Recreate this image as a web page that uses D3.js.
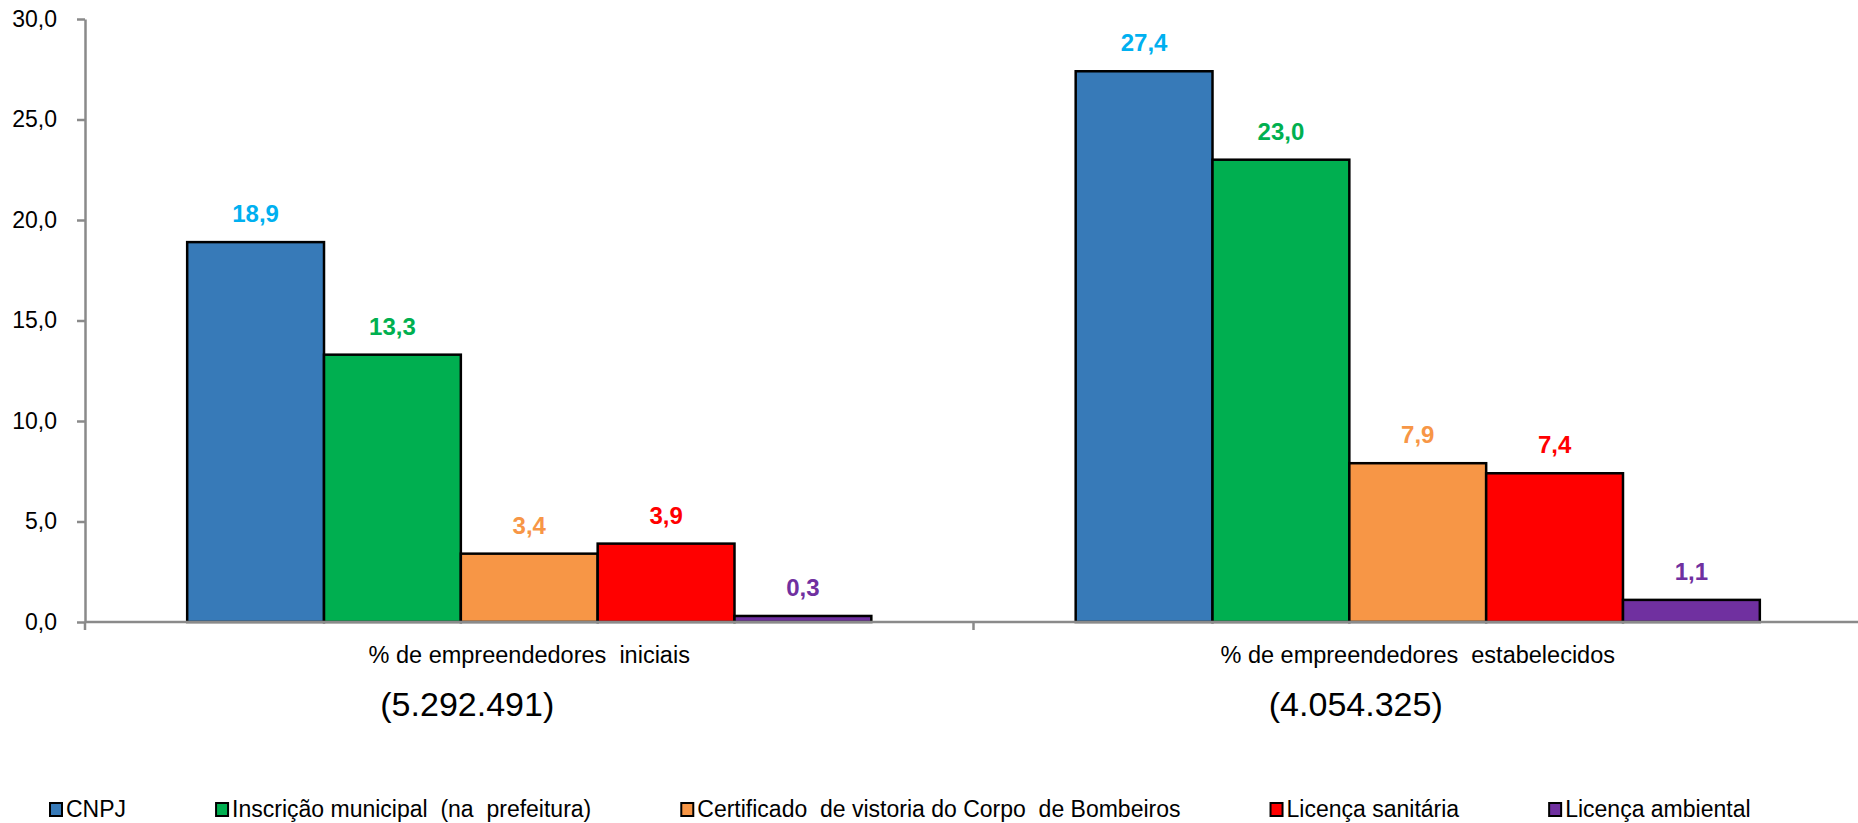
<!DOCTYPE html>
<html lang="pt">
<head>
    <meta charset="UTF-8">
    <title>Registros e licenças</title>
    <script src="https://d3js.org/d3.v7.min.js"></script>
    <style>
        body { margin: 0; background: #fff; }
        text { font-family: "Liberation Sans", Arial, sans-serif; white-space: pre; }
    </style>
</head>
<body>
<script>
    const categories = ["% de empreendedores  iniciais", "% de empreendedores  estabelecidos"];
    const counts = ["(5.292.491)", "(4.054.325)"];
    const seriesNames = ["CNPJ", "Inscrição municipal  (na  prefeitura)", "Certificado  de vistoria do Corpo  de Bombeiros", "Licença sanitária", "Licença ambiental"];
    const cnpj = [18.9, 27.4];
    const inscricao = [13.3, 23.0];
    const certificado = [3.4, 7.9];
    const sanitaria = [3.9, 7.4];
    const ambiental = [0.3, 1.1];
    const yTicks = [0, 5, 10, 15, 20, 25, 30];

    const barColors = ["#377AB8", "#00AF50", "#F79646", "#FF0000", "#7030A0"];
    const labelColors = ["#00B0F0", "#00B050", "#F79646", "#FF0000", "#7030A0"];
    const series = [cnpj, inscricao, certificado, sanitaria, ambiental];

    const width = 1858, height = 823;
    const plotLeft = 85, plotRight = 1862, plotTop = 19, plotBottom = 622;
    const axisColor = "#8a8a8a";

    const svg = d3.select("body").append("svg")
        .attr("width", width)
        .attr("height", height);

    const x0 = d3.scaleBand().domain(d3.range(categories.length)).range([plotLeft, plotRight]);
    const bw = x0.bandwidth();
    const x1 = d3.scaleBand().domain(d3.range(series.length)).range([bw * 0.115, bw * 0.885]);
    const y = d3.scaleLinear().domain([0, 30]).range([plotBottom, plotTop]);
    const fmt = v => d3.format(".1f")(v).replace(".", ",");

    // y axis
    const yAxis = svg.append("g")
        .attr("transform", `translate(${plotLeft},0)`)
        .call(d3.axisLeft(y).tickValues(yTicks).tickFormat(fmt).tickSize(8).tickPadding(20).tickSizeOuter(0));
    yAxis.select(".domain").attr("stroke", axisColor).attr("stroke-width", 2.5);
    yAxis.selectAll(".tick line").attr("stroke", axisColor).attr("stroke-width", 2.5);
    yAxis.selectAll(".tick text").attr("font-size", 23).attr("fill", "#000")
        .style("font-family", "'Liberation Sans', Arial, sans-serif");

    // bars
    const groups = svg.append("g").selectAll("g")
        .data(categories)
        .join("g")
        .attr("transform", (d, i) => `translate(${x0(i)},0)`);

    groups.selectAll("rect")
        .data((d, i) => series.map((s, k) => ({ k, v: s[i] })))
        .join("rect")
        .attr("x", d => x1(d.k))
        .attr("y", d => y(d.v))
        .attr("width", x1.bandwidth())
        .attr("height", d => y(0) - y(d.v))
        .attr("fill", d => barColors[d.k])
        .attr("stroke", "#000")
        .attr("stroke-width", 2.5);

    groups.selectAll("text.val")
        .data((d, i) => series.map((s, k) => ({ k, v: s[i] })))
        .join("text")
        .attr("class", "val")
        .attr("x", d => x1(d.k) + x1.bandwidth() / 2)
        .attr("y", d => y(d.v) - 20)
        .attr("text-anchor", "middle")
        .attr("font-size", 24)
        .attr("font-weight", "bold")
        .attr("fill", d => labelColors[d.k])
        .text(d => fmt(d.v));

    // x axis
    svg.append("line")
        .attr("x1", plotLeft).attr("x2", plotRight)
        .attr("y1", y(0)).attr("y2", y(0))
        .attr("stroke", axisColor).attr("stroke-width", 2.5);
    svg.append("g").selectAll("line")
        .data(d3.range(categories.length + 1))
        .join("line")
        .attr("x1", i => i < categories.length ? x0(i) : x0(i - 1) + bw)
        .attr("x2", i => i < categories.length ? x0(i) : x0(i - 1) + bw)
        .attr("y1", y(0)).attr("y2", y(0) + 8)
        .attr("stroke", axisColor).attr("stroke-width", 2.5);

    svg.append("g").selectAll("text")
        .data(categories)
        .join("text")
        .attr("x", (d, i) => x0(i) + bw / 2)
        .attr("y", 663)
        .attr("text-anchor", "middle")
        .attr("font-size", 23.5)
        .attr("fill", "#000")
        .text(d => d);

    svg.append("g").selectAll("text")
        .data(counts)
        .join("text")
        .attr("x", (d, i) => x0(i) + bw / 2 - 62)
        .attr("y", 716)
        .attr("text-anchor", "middle")
        .attr("font-size", 34)
        .attr("fill", "#000")
        .text(d => d);

    // legend
    const legend = svg.append("g");
    let lx = 50;
    seriesNames.forEach((name, k) => {
        const item = legend.append("g").attr("transform", `translate(${lx},0)`);
        item.append("rect")
            .attr("x", 0).attr("y", 803)
            .attr("width", 12).attr("height", 13)
            .attr("fill", barColors[k])
            .attr("stroke", "#000").attr("stroke-width", 2);
        const t = item.append("text")
            .attr("x", 16).attr("y", 817)
            .attr("font-size", 23)
            .attr("fill", "#000")
            .text(name);
        lx += 16 + t.node().getComputedTextLength() + 90;
    });
</script>
</body>
</html>
